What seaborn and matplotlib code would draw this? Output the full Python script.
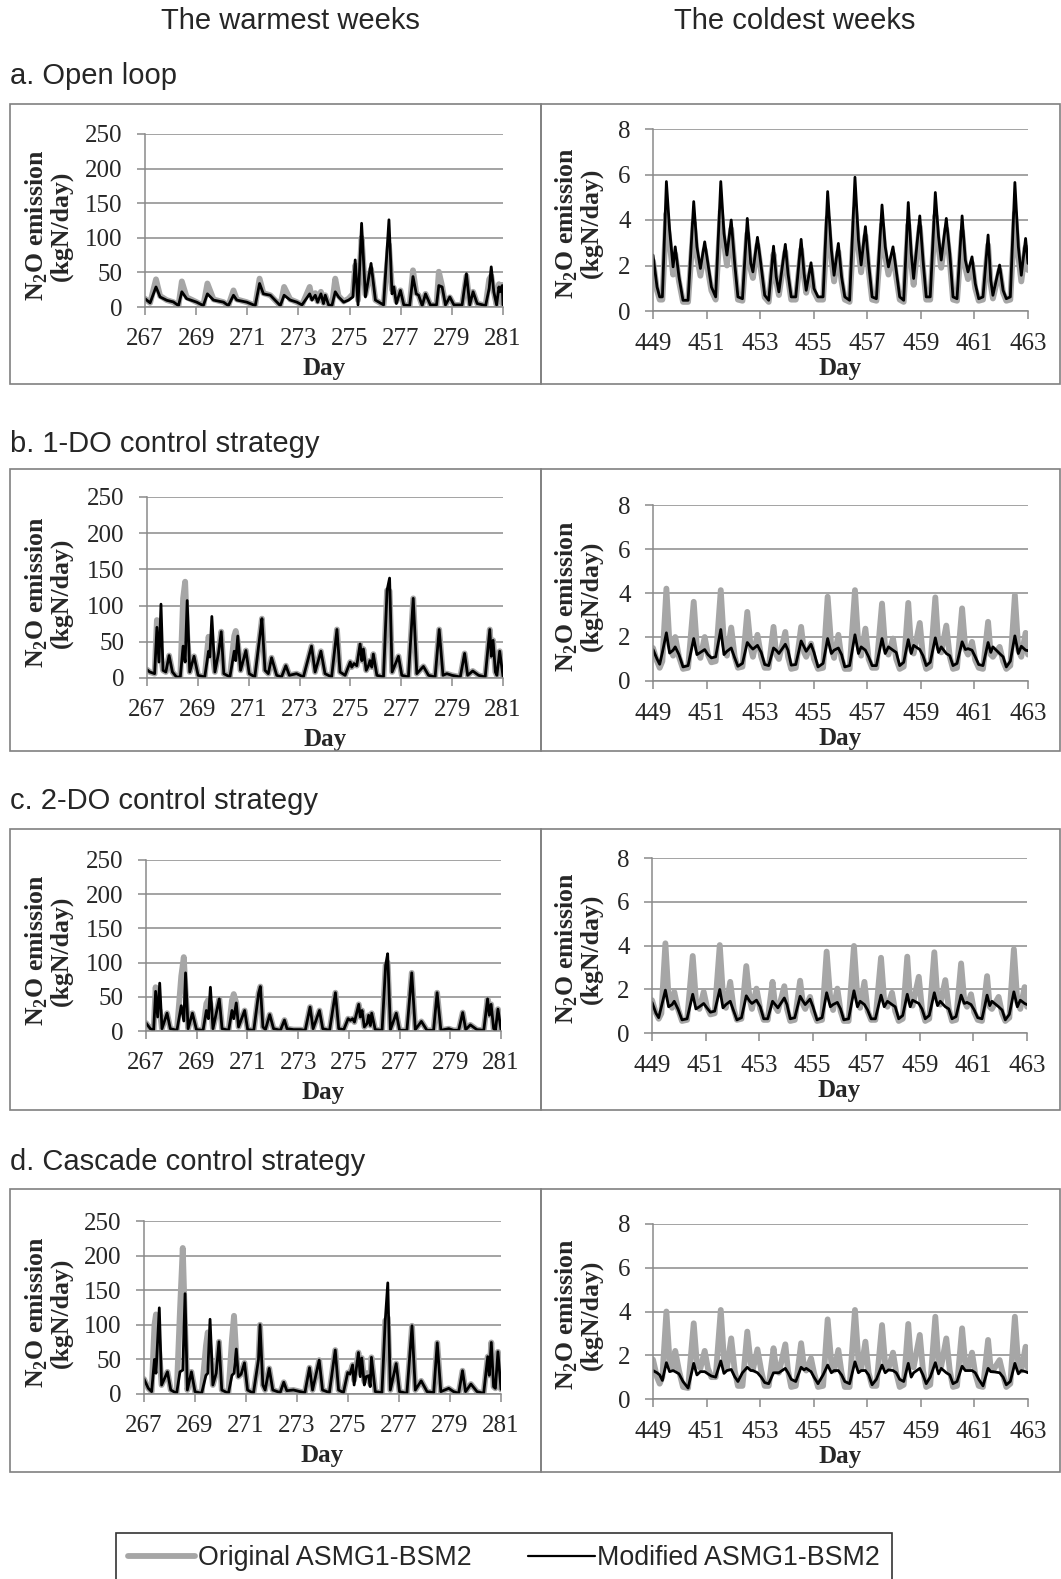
import numpy as np
import pandas as pd
import matplotlib
matplotlib.use("Agg")
import matplotlib.pyplot as plt
import seaborn as sns
from matplotlib.patches import Rectangle
from matplotlib.lines import Line2D

# ---------------- data ----------------
col_titles = ["The warmest weeks", "The coldest weeks"]
row_titles = ["a. Open loop", "b. 1-DO control strategy",
              "c. 2-DO control strategy", "d. Cascade control strategy"]
series_names = ["Original ASMG1-BSM2", "Modified ASMG1-BSM2"]
warm_ticks = [267, 269, 271, 273, 275, 277, 279, 281]
cold_ticks = [449, 451, 453, 455, 457, 459, 461, 463]
warm_yticks = [0, 50, 100, 150, 200, 250]
cold_yticks = [0, 2, 4, 6, 8]

# warm weeks: (day, original, modified)
warm_a = [
    (267.00, 12, 12), (267.20, 6, 6), (267.43, 40, 29), (267.59, 16, 14.5), (267.85, 10, 9.7),
    (268.11, 7, 7.3), (268.31, 2, 2), (268.44, 37, 22), (268.63, 14, 12), (269.02, 7, 7),
    (269.28, 2, 2), (269.44, 34, 19), (269.68, 11, 10), (270.07, 7, 7), (270.26, 2, 2),
    (270.46, 24, 17), (270.59, 11, 10), (270.98, 7, 7), (271.31, 2, 2), (271.48, 41, 34),
    (271.63, 20, 19), (271.90, 17, 17), (272.16, 7, 7), (272.29, 2, 2), (272.44, 29, 17),
    (272.68, 11, 10), (272.94, 7, 7), (273.14, 3, 3), (273.44, 29, 19), (273.53, 12, 10),
    (273.66, 20, 17), (273.75, 8, 7), (273.88, 22, 19), (273.98, 6, 5), (274.05, 17, 17),
    (274.18, 3, 3), (274.31, 2, 2), (274.44, 41, 22), (274.57, 16, 14.5), (274.77, 8, 7),
    (274.96, 12, 10), (275.13, 19, 14.5), (275.22, 60, 68), (275.33, 10, 3), (275.39, 50, 53),
    (275.47, 100, 121), (275.62, 18, 14.5), (275.84, 55, 63), (276.01, 10, 10), (276.33, 3, 3),
    (276.54, 90, 126), (276.66, 25, 19), (276.73, 28, 29), (276.83, 8, 5), (276.99, 24, 24),
    (277.12, 3, 3), (277.35, 2, 2), (277.48, 53, 44), (277.61, 20, 19), (277.70, 17, 17),
    (277.84, 2, 2), (277.97, 19, 19), (278.16, 3, 3), (278.40, 3, 3), (278.49, 51, 31),
    (278.62, 30, 29), (278.75, 3, 3), (278.92, 14, 14.5), (279.08, 3, 3), (279.40, 3, 3),
    (279.57, 45, 48), (279.70, 4, 3), (279.83, 22, 22), (279.99, 5, 5), (280.32, 2, 2),
    (280.46, 40, 27), (280.54, 45, 58), (280.64, 22, 22), (280.75, 3, 3), (280.84, 33, 29),
    (280.88, 24, 22), (280.97, 32, 31), (281.00, 3, 3)]

warm_b = [
    (267.00, 11.5, 11.5), (267.11, 8.3, 8.3), (267.30, 6, 6), (267.39, 80, 70), (267.47, 55, 22),
    (267.55, 30, 102), (267.63, 10.6, 10.6), (267.74, 8.3, 8.3), (267.87, 31, 31), (268.00, 8.3, 8.3),
    (268.16, 1.4, 1.4), (268.31, 1.4, 1.4), (268.42, 110, 44), (268.50, 133, 22), (268.58, 60, 107),
    (268.68, 8.3, 8.3), (268.85, 30, 30), (269.01, 3.7, 3.7), (269.27, 1.4, 1.4), (269.42, 57, 37),
    (269.47, 50, 29), (269.55, 40, 85), (269.67, 8.3, 8.3), (269.81, 34, 34), (269.92, 64, 64),
    (270.02, 6, 6), (270.26, 1.4, 1.4), (270.43, 58, 37), (270.49, 65, 24), (270.57, 50, 58),
    (270.68, 10.6, 10.6), (270.89, 38, 38), (271.02, 6, 6), (271.24, 1.4, 1.4), (271.48, 70, 70),
    (271.52, 82, 82), (271.64, 10.6, 10.6), (271.77, 6, 6), (271.90, 28, 28), (272.10, 3.7, 3.7),
    (272.29, 1.4, 1.4), (272.46, 17, 17), (272.60, 3.7, 3.7), (272.88, 6, 6), (273.15, 1.4, 1.4),
    (273.47, 44, 44), (273.61, 8.3, 8.3), (273.84, 37, 37), (274.00, 6, 6), (274.26, 1.4, 1.4),
    (274.47, 67, 67), (274.59, 8.3, 8.3), (274.79, 3.7, 3.7), (274.99, 22, 22), (275.05, 15, 15),
    (275.14, 20, 20), (275.25, 17, 17), (275.38, 47, 47), (275.45, 24, 24), (275.51, 40, 40),
    (275.62, 10.6, 10.6), (275.71, 17, 17), (275.77, 24, 24), (275.84, 15, 15), (275.90, 33, 33),
    (276.04, 3.7, 3.7), (276.30, 1.4, 1.4), (276.44, 121, 121), (276.54, 120, 138), (276.64, 8.3, 8.3),
    (276.89, 30, 30), (277.02, 3.7, 3.7), (277.28, 1.4, 1.4), (277.47, 110, 110), (277.61, 6, 6),
    (277.87, 16, 16), (278.07, 3.7, 3.7), (278.33, 1.4, 1.4), (278.49, 67, 67), (278.64, 3.7, 3.7),
    (278.79, 6, 6), (278.99, 3.7, 3.7), (279.32, 1.4, 1.4), (279.49, 34, 34), (279.61, 3.7, 3.7),
    (279.81, 9.7, 9.7), (280.04, 3.7, 3.7), (280.30, 1.4, 1.4), (280.48, 67, 67), (280.54, 30, 30),
    (280.61, 52, 52), (280.70, 8.3, 8.3), (280.76, 3.7, 3.7), (280.87, 37, 37), (281.00, 2.3, 2.3)]

warm_c = [
    (267.00, 11.7, 11.7), (267.17, 3.4, 3.4), (267.30, 1, 1), (267.38, 64, 58), (267.46, 25, 20.5),
    (267.54, 30, 70), (267.63, 3.4, 3.4), (267.83, 26, 26), (267.96, 3.4, 3.4), (268.22, 1, 1),
    (268.39, 80, 37), (268.49, 108, 14.6), (268.56, 60, 85), (268.66, 3.4, 3.4), (268.83, 26, 26),
    (268.99, 2, 2), (269.25, 1, 1), (269.38, 40, 30), (269.46, 46, 18), (269.54, 40, 64),
    (269.64, 3.4, 3.4), (269.77, 26, 26), (269.89, 47, 47), (270.00, 3.4, 3.4), (270.26, 1, 1),
    (270.39, 45, 30), (270.46, 54, 18), (270.56, 41, 41), (270.65, 6, 6), (270.89, 30, 30),
    (271.01, 2, 2), (271.25, 1, 1), (271.44, 55, 55), (271.51, 65, 65), (271.61, 6, 6),
    (271.71, 2, 2), (271.88, 24, 24), (272.03, 3.4, 3.4), (272.30, 1, 1), (272.46, 16, 16),
    (272.56, 3.4, 3.4), (272.82, 2, 2), (273.09, 2, 2), (273.28, 1, 1), (273.47, 35, 35),
    (273.59, 3.4, 3.4), (273.84, 30, 30), (273.97, 3.4, 3.4), (274.24, 1, 1), (274.47, 56, 56),
    (274.60, 3.4, 3.4), (274.80, 2, 2), (274.97, 18, 18), (275.06, 15.6, 15.6), (275.15, 18, 18),
    (275.22, 13, 13), (275.39, 39, 39), (275.45, 20.5, 20.5), (275.52, 30, 30), (275.61, 6, 6),
    (275.72, 11, 11), (275.78, 23, 23), (275.85, 8, 8), (275.90, 26, 26), (276.04, 2, 2),
    (276.31, 1, 1), (276.45, 96, 96), (276.53, 100, 113), (276.64, 2, 2), (276.87, 26, 26),
    (277.00, 1, 1), (277.29, 1, 1), (277.48, 85, 85), (277.62, 2, 2), (277.86, 14, 14),
    (278.08, 1, 1), (278.34, 1, 1), (278.48, 56, 56), (278.63, 1, 1), (278.94, 3.4, 3.4),
    (279.13, 1, 1), (279.33, 1, 1), (279.49, 27, 27), (279.61, 2, 2), (279.79, 9, 9),
    (280.05, 2, 2), (280.32, 1, 1), (280.47, 47, 47), (280.54, 23, 23), (280.61, 39, 39),
    (280.71, 3.4, 3.4), (280.78, 1, 1), (280.88, 32, 32), (281.00, 2, 2)]

warm_d = [
    (267.00, 21.6, 21.6), (267.17, 8.2, 8.2), (267.30, 3.4, 3.4), (267.41, 100, 50), (267.47, 115, 30),
    (267.60, 60, 124.5), (267.69, 13, 13), (267.92, 32, 32), (268.05, 5.8, 5.8), (268.28, 1, 1),
    (268.41, 120, 32), (268.52, 211, 34.6), (268.61, 100, 145), (268.70, 5.8, 5.8), (268.86, 32, 32),
    (269.00, 3.4, 3.4), (269.26, 1, 1), (269.43, 70, 27), (269.50, 89, 30), (269.59, 60, 108),
    (269.70, 13, 13), (269.83, 30, 30), (269.94, 75.5, 75.5), (270.05, 5.8, 5.8), (270.31, 1, 1),
    (270.45, 80, 27), (270.53, 113, 30), (270.62, 55, 65), (270.70, 25, 25), (270.81, 28.8, 28.8),
    (270.94, 45, 45), (271.06, 5.8, 5.8), (271.29, 1, 1), (271.49, 50, 50), (271.55, 100, 100),
    (271.66, 13, 13), (271.75, 5.8, 5.8), (271.91, 37, 37), (272.05, 5.8, 5.8), (272.34, 2, 2),
    (272.48, 17, 17), (272.60, 4.8, 4.8), (272.86, 5.8, 5.8), (273.12, 3.4, 3.4), (273.31, 2, 2),
    (273.49, 38, 38), (273.61, 5.8, 5.8), (273.87, 49, 49), (274.00, 5.8, 5.8), (274.27, 2, 2),
    (274.50, 63.5, 63.5), (274.63, 5.8, 5.8), (274.82, 2, 2), (274.99, 31, 31), (275.08, 30, 28.8),
    (275.18, 42, 42), (275.24, 20, 13), (275.41, 60, 60), (275.48, 30, 25), (275.54, 52, 52),
    (275.64, 18, 13), (275.71, 30, 25), (275.81, 30, 26.4), (275.87, 15, 10.6), (275.92, 53, 53),
    (276.07, 3.4, 3.4), (276.33, 2, 2), (276.46, 106, 106), (276.56, 110, 160.6), (276.66, 5.8, 5.8),
    (276.89, 44, 44), (277.02, 3.4, 3.4), (277.31, 1, 1), (277.51, 98.6, 98.6), (277.64, 5.8, 5.8),
    (277.87, 19, 19), (278.10, 3.4, 3.4), (278.36, 2, 2), (278.50, 74, 74), (278.64, 3.4, 3.4),
    (278.95, 8.2, 8.2), (279.14, 3.4, 3.4), (279.34, 1, 1), (279.49, 33.7, 33.7), (279.61, 3.4, 3.4),
    (279.82, 14.4, 14.4), (280.06, 3.4, 3.4), (280.32, 1, 1), (280.48, 54, 54), (280.54, 27, 27),
    (280.62, 74.5, 74.5), (280.71, 10.6, 10.6), (280.78, 8.2, 8.2), (280.88, 61, 61), (281.00, 6.7, 6.7)]

# cold weeks: shared sampling days, one line per daily cycle
cold_days = [
    449.00, 449.15, 449.25, 449.35,
    449.50, 449.62, 449.75, 449.83, 449.97, 450.12, 450.31,
    450.52, 450.64, 450.77, 450.93, 451.05, 451.18, 451.34,
    451.53, 451.65, 451.76, 451.92, 452.05, 452.17, 452.34,
    452.52, 452.65, 452.73, 452.90, 453.04, 453.17, 453.32,
    453.50, 453.60, 453.70, 453.94, 454.04, 454.16, 454.33,
    454.53, 454.64, 454.72, 454.90, 455.01, 455.16, 455.35,
    455.52, 455.66, 455.76, 455.92, 456.04, 456.16, 456.34,
    456.54, 456.67, 456.77, 456.93, 457.05, 457.18, 457.34,
    457.55, 457.67, 457.79, 457.96, 458.08, 458.21, 458.36,
    458.53, 458.64, 458.73, 458.96, 459.08, 459.20, 459.35,
    459.54, 459.66, 459.76, 459.95, 460.08, 460.20, 460.35,
    460.54, 460.66, 460.76, 460.91, 461.03, 461.16, 461.32,
    461.51, 461.61, 461.69, 461.94, 462.07, 462.19, 462.34,
    462.51, 462.64, 462.75, 462.91, 463.00]

cold_a_orig = [
    2.2, 0.9, 0.5, 0.5,
    4.3, 3.0, 1.6, 2.5, 1.3, 0.4, 0.4,
    3.9, 2.4, 1.55, 2.7, 1.8, 0.9, 0.5,
    4.4, 3.0, 2.0, 3.6, 1.9, 0.5, 0.45,
    3.4, 1.8, 1.45, 2.9, 1.7, 0.6, 0.4,
    2.5, 1.3, 0.7, 2.6, 1.45, 0.5, 0.5,
    2.7, 1.45, 0.8, 1.85, 0.85, 0.5, 0.5,
    4.1, 2.3, 1.3, 2.6, 1.3, 0.5, 0.4,
    4.5, 2.7, 1.7, 3.3, 1.8, 0.5, 0.45,
    3.8, 2.4, 1.6, 2.5, 1.5, 0.5, 0.4,
    3.8, 2.1, 1.15, 3.7, 1.9, 0.5, 0.5,
    4.2, 2.8, 1.9, 3.6, 2.2, 0.5, 0.45,
    3.5, 1.9, 1.4, 2.1, 1.0, 0.45, 0.5,
    2.9, 1.15, 0.55, 1.8, 0.8, 0.45, 0.5,
    4.3, 2.4, 1.3, 2.8, 1.8]
cold_a_mod = [
    2.46, 1.06, 0.62, 0.62,
    5.69, 3.56, 1.94, 2.82, 1.5, 0.47, 0.47,
    4.81, 2.82, 1.87, 3.04, 2.09, 1.06, 0.62,
    5.69, 3.41, 2.46, 4.0, 2.09, 0.62, 0.54,
    4.07, 2.09, 1.72, 3.24, 1.94, 0.69, 0.47,
    2.85, 1.5, 0.84, 2.93, 1.65, 0.62, 0.62,
    3.15, 1.65, 0.91, 2.12, 0.99, 0.62, 0.62,
    5.25, 2.68, 1.57, 2.97, 1.5, 0.62, 0.47,
    5.88, 3.12, 2.02, 3.71, 2.09, 0.62, 0.54,
    4.66, 2.82, 1.94, 2.82, 1.79, 0.62, 0.47,
    4.77, 2.53, 1.43, 4.18, 2.24, 0.62, 0.62,
    5.21, 3.27, 2.24, 4.07, 2.53, 0.62, 0.54,
    4.18, 2.24, 1.72, 2.38, 1.21, 0.54, 0.62,
    3.34, 1.35, 0.69, 2.02, 0.91, 0.54, 0.62,
    5.65, 2.82, 1.57, 3.19, 2.09]

cold_b_orig = [
    1.5, 0.9, 0.6, 0.9,
    4.2, 1.6, 1.15, 2.0, 1.1, 0.55, 0.6,
    3.6, 1.5, 1.05, 2.0, 1.2, 0.85, 0.9,
    4.13, 1.7, 1.15, 2.43, 1.1, 0.6, 0.65,
    3.14, 1.5, 1.1, 2.1, 1.1, 0.6, 0.6,
    2.46, 1.2, 1.0, 2.23, 1.1, 0.55, 0.6,
    2.46, 1.3, 1.1, 1.7, 1.0, 0.55, 0.6,
    3.83, 1.5, 1.05, 2.1, 1.0, 0.55, 0.55,
    4.13, 1.6, 1.15, 2.38, 1.0, 0.6, 0.6,
    3.52, 1.45, 1.2, 1.93, 1.0, 0.55, 0.65,
    3.55, 1.4, 1.25, 2.64, 1.1, 0.55, 0.65,
    3.8, 1.5, 1.3, 2.52, 1.1, 0.55, 0.6,
    3.3, 1.45, 1.2, 1.78, 0.95, 0.6, 0.55,
    2.69, 1.2, 1.1, 1.55, 0.9, 0.55, 0.7,
    3.9, 1.4, 1.1, 2.19, 1.2]
cold_b_mod = [
    1.43, 1.0, 0.76, 1.3,
    2.19, 1.27, 1.4, 1.55, 1.2, 0.64, 0.7,
    1.93, 1.2, 1.3, 1.43, 1.2, 1.05, 1.1,
    2.34, 1.2, 1.35, 1.5, 1.05, 0.67, 0.8,
    1.75, 1.55, 1.45, 1.62, 1.3, 0.75, 0.7,
    1.5, 1.4, 1.25, 1.67, 1.4, 0.72, 0.75,
    1.82, 1.55, 1.35, 1.67, 1.3, 0.64, 0.8,
    1.93, 1.25, 1.4, 1.5, 1.2, 0.64, 0.7,
    2.1, 1.25, 1.55, 1.4, 1.1, 0.7, 0.7,
    1.93, 1.25, 1.55, 1.4, 1.3, 0.7, 0.85,
    1.88, 1.25, 1.62, 1.43, 1.15, 0.7, 0.85,
    1.96, 1.3, 1.55, 1.25, 1.15, 0.7, 0.8,
    1.78, 1.43, 1.47, 1.4, 1.1, 0.75, 0.7,
    1.75, 1.3, 1.55, 1.25, 1.1, 0.64, 0.9,
    2.05, 1.25, 1.58, 1.4, 1.38]

cold_c_orig = [
    1.5, 0.9, 0.65, 0.9,
    4.1, 1.6, 1.15, 1.88, 1.1, 0.55, 0.6,
    3.52, 1.5, 1.1, 1.88, 1.2, 0.85, 0.9,
    4.02, 1.7, 1.15, 2.34, 1.1, 0.6, 0.65,
    3.06, 1.5, 1.1, 2.03, 1.1, 0.6, 0.6,
    2.34, 1.2, 1.0, 2.14, 1.1, 0.55, 0.6,
    2.39, 1.3, 1.1, 1.65, 1.0, 0.55, 0.6,
    3.72, 1.5, 1.05, 2.03, 1.0, 0.55, 0.55,
    3.98, 1.6, 1.15, 2.34, 1.0, 0.6, 0.6,
    3.44, 1.45, 1.2, 1.84, 1.0, 0.55, 0.65,
    3.49, 1.4, 1.25, 2.57, 1.1, 0.55, 0.65,
    3.69, 1.5, 1.3, 2.42, 1.1, 0.55, 0.6,
    3.18, 1.45, 1.2, 1.77, 0.95, 0.6, 0.55,
    2.6, 1.2, 1.1, 1.65, 0.9, 0.55, 0.7,
    3.83, 1.4, 1.1, 2.1, 1.2]
cold_c_mod = [
    1.4, 0.9, 0.7, 1.2,
    1.96, 1.2, 1.3, 1.45, 1.1, 0.6, 0.65,
    1.77, 1.1, 1.2, 1.35, 1.15, 0.95, 1.0,
    1.99, 1.15, 1.3, 1.45, 1.0, 0.6, 0.7,
    1.7, 1.45, 1.35, 1.5, 1.2, 0.65, 0.65,
    1.45, 1.3, 1.15, 1.6, 1.3, 0.65, 0.7,
    1.68, 1.45, 1.3, 1.55, 1.2, 0.6, 0.7,
    1.84, 1.2, 1.3, 1.4, 1.1, 0.6, 0.65,
    1.93, 1.2, 1.45, 1.3, 1.05, 0.65, 0.65,
    1.73, 1.2, 1.45, 1.3, 1.2, 0.65, 0.8,
    1.77, 1.2, 1.5, 1.35, 1.1, 0.65, 0.8,
    1.84, 1.25, 1.45, 1.2, 1.1, 0.65, 0.75,
    1.73, 1.35, 1.4, 1.3, 1.05, 0.7, 0.65,
    1.73, 1.25, 1.45, 1.2, 1.05, 0.6, 0.85,
    1.88, 1.2, 1.5, 1.35, 1.3]

cold_d_orig = [
    1.8, 1.0, 0.7, 1.0,
    4.0, 1.7, 1.4, 2.2, 1.3, 0.55, 0.5,
    3.46, 1.6, 1.4, 2.2, 1.4, 1.0, 1.0,
    4.07, 1.8, 1.4, 2.77, 1.3, 0.6, 0.6,
    3.08, 1.6, 1.35, 2.27, 1.3, 0.6, 0.6,
    2.32, 1.35, 1.2, 2.5, 1.3, 0.55, 0.6,
    2.55, 1.45, 1.3, 1.86, 1.2, 0.55, 0.6,
    3.64, 1.6, 1.3, 2.24, 1.2, 0.55, 0.55,
    4.07, 1.75, 1.35, 2.62, 1.2, 0.6, 0.6,
    3.38, 1.55, 1.4, 2.12, 1.2, 0.55, 0.65,
    3.43, 1.5, 1.45, 2.93, 1.3, 0.55, 0.65,
    3.76, 1.6, 1.5, 2.77, 1.3, 0.55, 0.6,
    3.23, 1.55, 1.4, 2.12, 1.15, 0.6, 0.55,
    2.7, 1.35, 1.3, 1.78, 1.1, 0.55, 0.7,
    3.76, 1.5, 1.3, 2.39, 1.4]
cold_d_mod = [
    1.3, 1.2, 1.1, 0.85,
    1.66, 1.25, 1.3, 1.25, 1.15, 0.8, 0.5,
    1.63, 1.1, 1.25, 1.25, 1.15, 1.05, 1.0,
    1.74, 1.17, 1.3, 1.35, 1.02, 0.8, 1.2,
    1.45, 1.3, 1.3, 1.2, 1.0, 0.75, 0.7,
    1.2, 1.2, 1.2, 1.4, 1.2, 0.9, 0.8,
    1.45, 1.33, 1.4, 1.25, 1.0, 0.7, 1.1,
    1.55, 1.2, 1.3, 1.3, 1.1, 0.8, 0.7,
    1.7, 1.2, 1.3, 1.3, 1.1, 0.65, 0.9,
    1.55, 1.2, 1.33, 1.3, 1.2, 0.9, 0.8,
    1.63, 1.0, 1.2, 1.4, 1.1, 0.7, 1.0,
    1.66, 1.15, 1.4, 1.2, 1.1, 0.7, 0.8,
    1.5, 1.3, 1.3, 1.3, 1.2, 0.9, 0.6,
    1.4, 1.25, 1.25, 1.2, 1.0, 0.65, 0.8,
    1.63, 1.15, 1.3, 1.25, 1.2]

# ---------------- style ----------------
sns.set_theme(style="white")
plt.rcParams["font.family"] = ["Liberation Serif", "DejaVu Serif"]
plt.rcParams["mathtext.fontset"] = "custom"
plt.rcParams["mathtext.rm"] = "Liberation Serif"
plt.rcParams["mathtext.bf"] = "Liberation Serif:bold"

GRAY = "#a6a6a6"
GRID = "#8a8a8a"
BOX = "#808080"
SANS = ["Liberation Sans", "DejaVu Sans"]
TICK_FS = 18
LAB_FS = 18.5

W, H = 1061, 1579
fig = plt.figure(figsize=(W / 100, H / 100), dpi=100)
fig.patch.set_facecolor("white")


def frac_rect(x0, y0, x1, y1):
    return [x0 / W, 1 - y1 / H, (x1 - x0) / W, (y1 - y0) / H]


warm_px = [(145, 134, 503, 307), (147, 497, 503, 678), (146, 860, 501, 1031), (144, 1221, 501, 1394)]
cold_px = [(653, 129, 1028, 311), (653, 505, 1028, 681), (652, 858, 1027, 1033), (653, 1224, 1028, 1399)]
boxes_y = [(104, 384), (469, 751), (829, 1110), (1189, 1472)]
row_label_y = [76, 444, 801, 1162]

warm_sets = [warm_a, warm_b, warm_c, warm_d]
cold_sets = [(cold_a_orig, cold_a_mod), (cold_b_orig, cold_b_mod),
             (cold_c_orig, cold_c_mod), (cold_d_orig, cold_d_mod)]

ylab = "N$_\\mathbf{2}$O emission\n(kgN/day)"


def style_axis(ax, xlim, xticks, ylim, yticks, xpad, labpad):
    ax.set_xlim(*xlim)
    ax.set_ylim(*ylim)
    ax.set_xticks(xticks)
    ax.set_yticks(yticks)
    ax.grid(axis="y", color=GRID, linewidth=1.1)
    ax.grid(axis="x", visible=False)
    ax.set_axisbelow(True)
    for s in ["top", "right"]:
        ax.spines[s].set_visible(False)
    for s in ["left", "bottom"]:
        ax.spines[s].set_color(GRID)
        ax.spines[s].set_linewidth(1.1)
    ax.tick_params(axis="y", direction="out", length=6, width=1.1, color=GRID,
                   labelsize=TICK_FS, pad=10, left=True)
    ax.tick_params(axis="x", direction="out", length=5.5, width=1.1, color=GRID,
                   labelsize=TICK_FS, pad=xpad, bottom=True)
    ax.set_xlabel("Day", fontsize=TICK_FS, fontweight="bold", labelpad=labpad)
    ax.set_ylabel("")


for i in range(4):
    # warm panel
    ax = fig.add_axes(frac_rect(*warm_px[i]))
    df = pd.DataFrame(warm_sets[i], columns=["Day", "Original", "Modified"])
    sns.lineplot(data=df, x="Day", y="Original", ax=ax, color=GRAY, linewidth=4.2,
                 sort=False, estimator=None, solid_joinstyle="round")
    sns.lineplot(data=df, x="Day", y="Modified", ax=ax, color="black", linewidth=2.0,
                 sort=False, estimator=None, solid_joinstyle="round")
    style_axis(ax, (267, 281), warm_ticks, (0, 250), warm_yticks, 9.5, 5)
    x0, y0, x1, y1 = warm_px[i]
    fig.text(48 / W, 1 - ((y0 + y1) / 2 + 5) / H, ylab, rotation=90, ha="center", va="center",
             fontsize=LAB_FS, fontweight="bold", linespacing=0.95, multialignment="center")

    # cold panel
    ax = fig.add_axes(frac_rect(*cold_px[i]))
    orig, mod = cold_sets[i]
    dfc = pd.DataFrame({"Day": cold_days, "Original": orig, "Modified": mod})
    sns.lineplot(data=dfc, x="Day", y="Original", ax=ax, color=GRAY, linewidth=4.2,
                 sort=False, estimator=None, solid_joinstyle="round")
    sns.lineplot(data=dfc, x="Day", y="Modified", ax=ax, color="black", linewidth=2.0,
                 sort=False, estimator=None, solid_joinstyle="round")
    style_axis(ax, (449, 463), cold_ticks, (0, 8), cold_yticks, 10.5, 1.5)
    x0, y0, x1, y1 = cold_px[i]
    fig.text(578 / W, 1 - ((y0 + y1) / 2 + 3) / H, ylab, rotation=90, ha="center", va="center",
             fontsize=LAB_FS, fontweight="bold", linespacing=0.95, multialignment="center")

    # panel frames
    by0, by1 = boxes_y[i]
    for bx0, bx1 in [(10, 541), (541, 1060)]:
        fig.add_artist(Rectangle((bx0 / W, 1 - by1 / H), (bx1 - bx0) / W, (by1 - by0) / H,
                                 transform=fig.transFigure, fill=False, edgecolor=BOX,
                                 linewidth=1.2))
    fig.text(10 / W, 1 - row_label_y[i] / H, row_titles[i], ha="left", va="center",
             fontsize=21, family=SANS)

fig.text(290 / W, 1 - 21 / H, col_titles[0], ha="center", va="center", fontsize=21, family=SANS)
fig.text(795 / W, 1 - 21 / H, col_titles[1], ha="center", va="center", fontsize=21, family=SANS)

handles = [Line2D([], [], color=GRAY, linewidth=4.2),
           Line2D([], [], color="black", linewidth=1.6)]
leg = fig.legend(handles, series_names, loc="upper left",
                 bbox_to_anchor=(116 / W, 1 - 1533 / H), ncol=2, frameon=True,
                 fancybox=False, edgecolor="black", prop={"family": SANS, "size": 19.3},
                 handlelength=2.5, handletextpad=0.1, columnspacing=2.1,
                 borderpad=0.45, borderaxespad=0)
leg.get_frame().set_linewidth(1.2)

fig.savefig("out.png", dpi=100, facecolor="white")
